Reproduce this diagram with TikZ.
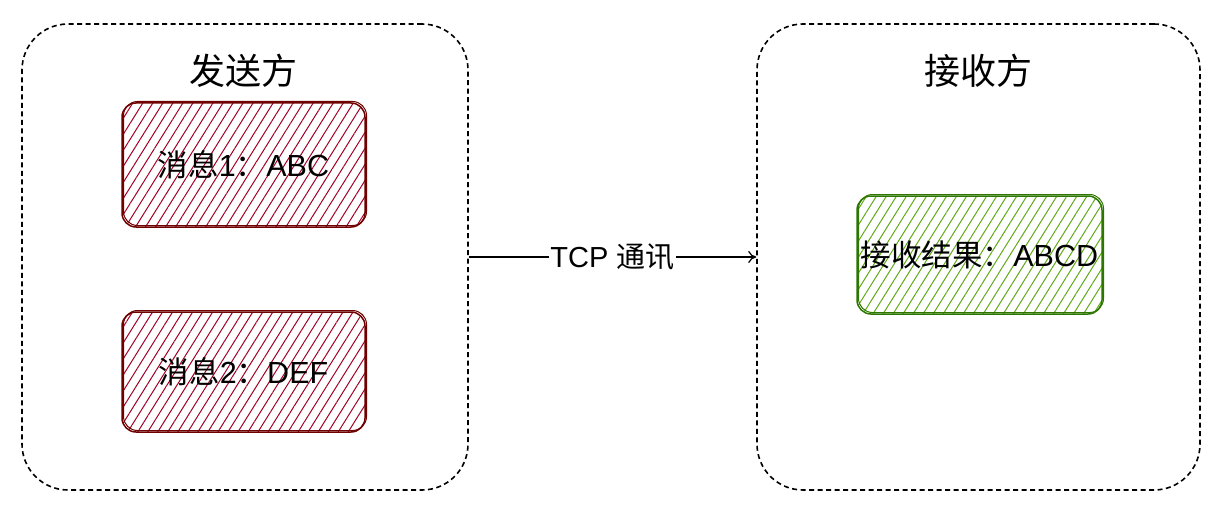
\documentclass[tikz,border=0pt]{standalone}
\usepackage{fontspec}
\setmainfont{Liberation Sans}
\newfontfamily\cjk{Noto Sans CJK SC}
\usetikzlibrary{patterns.meta,arrows.meta}

\definecolor{redline}{HTML}{6F0000}
\definecolor{redhatch}{HTML}{A20025}
\definecolor{greenline}{HTML}{2D7600}
\definecolor{greenhatch}{HTML}{60A917}

\tikzset{
  party/.style={draw,line width=1.6pt,dash pattern=on 5pt off 3.5pt,rounded corners=46pt,
    minimum width=446pt,minimum height=466pt},
  msgbox/.style={draw=#1line,line width=1.5pt,rounded corners=14pt,
    pattern={Lines[angle=58,distance=8.5pt,line width=1pt]},pattern color=#1hatch,
    minimum width=243pt,minimum height=120pt,font=\fontsize{30.5}{35}\selectfont,
    postaction={transform canvas={xshift=1.5pt,yshift=1.5pt},draw=#1line,line width=1pt}},
  title/.style={font=\cjk\fontsize{36}{42}\selectfont},
  link/.style={line width=1.2pt,-{To[length=8pt,width=12pt]}}
}

\begin{document}
\begin{tikzpicture}[x=1pt,y=-1pt]
\useasboundingbox (0,0) rectangle (1224,508);
% sender
  \node[party] (send) at (245,257) {};
  \node[title] (sendtitle) at (243,71) {发送方};
  \node[msgbox=red,minimum height=124pt] (msgA) at (243.5,165) {{\cjk 消息}1{\cjk ：}ABC};
  \node[msgbox=red] (msgB) at (243.5,372) {{\cjk 消息}2{\cjk ：}DEF};
% receiver
  \node[party,minimum width=443pt] (recv) at (978.5,257) {};
  \node[title] (recvtitle) at (978,71) {接收方};
  \node[msgbox=green,minimum width=245pt,minimum height=118pt] (result) at (979.5,255) {{\cjk 接收结果：}ABCD};
% link
  \draw[link] (send.east) -- node[fill=white,inner sep=1pt,font=\fontsize{29}{34}\selectfont] (tcp) {TCP {\cjk 通讯}} (recv.west);
\end{tikzpicture}
\end{document}
